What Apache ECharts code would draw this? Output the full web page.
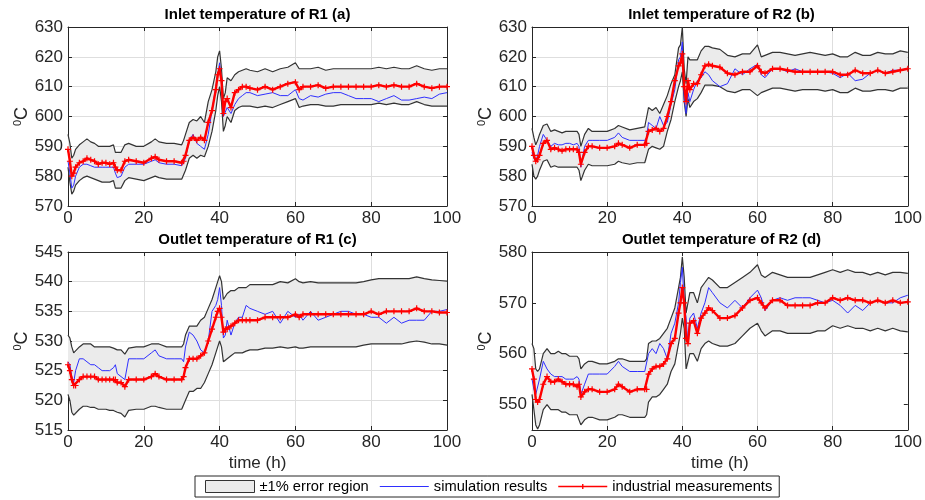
<!DOCTYPE html>
<html><head><meta charset="utf-8">
<script src="https://cdn.jsdelivr.net/npm/echarts@6/dist/echarts.min.js"></script>
<style>html,body{margin:0;padding:0;background:#fff}#c{width:925px;height:500px}</style>
</head><body><div id="c"></div>
<script>
// time axis (h)
const T = [0,0.5,1,1.5,2,3,4,5,6,7,8,9,10,11,12,12.5,13,14,15,16,
  18,20,22,23,24,26,28,30,
  30.5,31,32,33,34,35,36,37,38,39,39.5,40,40.5,41,41.5,42,43,44,45,46,47,48,
  50,52,54,56,58,60,61,62,64,66,68,70,72,74,76,78,80,82,84,86,88,90,92,94,96,98,100];

// (a) Inlet temperature of R1
const a_meas = [589,585,580,581,583,584.5,585,586,585.5,585,584,584.5,584.5,584,584.5,583,582,582,585,585.5,
  585,584.5,586,586.5,585.5,585,585,584.5,
  585,587,592,593,592,593,592,598,602,609,614,616,612,601,605,606,603,608,609,610,610,609.5,
  609,610,609,610,611,611.5,609,610,610,610.5,609.5,610,610,610,610,610,610,610.5,610,610.5,610,610,611,610,609.5,610,610];
const a_sim = [585,581,576,577,580,583,584,584,583.5,583,583,583,583,583,583,581,579.5,580,583,584,
  584,584,585,585.5,584.5,584,584,583.5,
  584,586,592,594,591,590,589,594,602,610,614,618,611,600,600,603,601,604,606,607,608,608,
  607,607.5,608,607,607,609,606,605.5,607,606.5,607.5,608,608,607,606,606,606,605,606,607,605.5,605.5,606,606.5,606,607.5,608];
const a_up = [594,591,586,587,589,590.5,591.5,592.5,591.5,591,590,590,590,590,590.5,588,587.5,588,590.5,591,
  590,590,591.5,592.5,591.5,591,591,590.5,
  592,594,598,599,598.5,600,598,605,609,615,620,622,616,606,608,613,612,614,615,615.5,616,615.5,
  615,616,615,616,616.5,618,616,616,616,616.5,615.5,616,616,616,616,616,616,616.5,616,616.5,616,616,617,616,615.5,616,616];
const a_lo = [583,578,574,575,577,578.5,579.5,580,579.5,579,578.5,578,578,578,578.5,576,575.5,576,578.5,579.5,
  579,578.5,579.5,580,579.5,579,579,579,
  579.5,582,586,587,586,587,586.5,590,595,602,607,610,605,595,597,600,598,602,603,603.5,603.5,603.5,
  603,603.5,603,604,605,606,603,603.5,604,604,603.5,603.5,604,604,604,604,604,604.5,604,604.5,604,604,605,604,603.5,603.5,603.5];

// (b) Inlet temperature of R2
const b_meas = [590,587,585,585.5,587,591,592,589,589.5,589,588.5,589,589,589,589,588,584,588,590,590,
  589.5,589.5,590,591,590.5,589.5,590.5,590.5,
  591,595,595.5,596,595,596,600,605,612,617,618,621,610,605,612,609,611,611,614,617,617.5,617,
  616.5,614.5,614,615,615,617,615,614.5,616,616,615.5,615,615,615,615,615,615,614,614,615.5,614.5,614.5,615.5,614.5,615,615.5,616];
const b_sim = [588,586,585,587,590,594,592,590,591,590.5,590.5,591,591,590.5,591,590,583,590,592,592,
  592,592,593,594.5,593,592,592,592,
  593,598,597,596,600,597,598,604,609,619,620,625,606,601,608,605,609,612,613,615,614,612,
  610,611,616,614,616,617.5,614,613,616,616,615,616,615,615,615,615,614.5,613,614.5,612,612.5,614.5,615.5,614.5,615.5,615.5,616];
const b_up = [596,593,590.5,592,594,597,597.5,595,595.5,595,594.5,595,595,595,595,594,590,594,596,595,
  595,595,596,597,596.5,595.5,596,596.5,
  597,603,602,603,601,604,607,611,614,623,624,630,616,611,620,619,619,619,622,623.5,623.5,623,
  622.5,620.5,620,621,621,624,620,620.5,621.5,621.5,621,620.5,621,621.5,621,620.5,621,620,620,621.5,620.5,620.5,621.5,621,621,622,621.5];
const b_lo = [584,580,579,580,582,585,585.5,583,583.5,583,583,583,583,583,583,582,578.5,582,584,583.5,
  583.5,583.5,584,585,584.5,584,584.5,584.5,
  585,589,590,589.5,589,590,595,599,605,610,612,615,605,600,606,603,605,606,608,610.5,610.5,610.5,
  610,608.5,608,609,609,607,608,608.5,609.5,609.5,609,608.5,609,609,609,608.5,609,608,608,609.5,608.5,608.5,609,609,608.5,609.5,609.5];

// (c) Outlet temperature of R1
const c_meas = [526,525,523.5,522.5,522.5,523.5,524,524,524,524,523.5,523.5,523.5,523.5,523.5,523.5,523,523,522.3,523.5,
  523.5,523.5,524,524.5,524,523.5,523.5,523.5,
  524,525.5,527,527,527,527.5,528,530,532,534,535,535.5,534,531.5,532,532,532.5,533,533.5,533.5,533.5,533.5,
  533.5,534,534,534,534,534.5,534,534.5,534.5,534.5,534.5,534.5,534.5,534.5,534.5,534.5,535,534.5,535,535,535,535,535.5,535,535,534.8,534.8];
const c_sim = [526.5,526,524,523,525,527,527,526.5,526,526,525.5,525,525,525,525.5,526,524.5,524,523.5,527,
  527,527,528,528.5,527.5,527,527,527,
  526.5,529,531.5,531,530,528.5,528,530,535,536,537,539,536,530.5,531,533.5,531,533,534,534,536,535.5,
  535,534.5,535,533,535,534,534.5,533.5,535,533.5,534,534.5,535,535,534.5,534.5,534,534,533,534,533,533.5,533.5,533.5,535,535,535.3];
const c_up = [531,530.5,529,528,528,529,529.5,529.5,529.5,529,529,529,529,529,528.8,528.8,528.5,528.5,527.8,528.8,
  529,529,529.5,529.5,529.5,529,529,529,
  529.5,531,532.5,532.5,532.5,533.5,534,535.5,537,539,540,541,540,537,537.5,538,538.5,538.5,539,539,539,539.5,
  539.5,539.5,539.5,540,539.8,540.5,540,539.8,540,539.8,539.8,539.8,539.8,539.8,539.8,540,540.3,540.5,540.5,540.5,540.5,540.5,540.8,540.5,540.3,540.2,540.1];
const c_lo = [521,520,518,517.5,517.5,518.5,519,519,518.8,518.8,518.5,518.5,518.5,518.3,518.3,518.3,518,517.8,517.2,518.3,
  518.5,518.5,519,519,518.8,518.5,518.5,518.5,
  518.8,520,521.5,521.5,522,522,523,524.5,526,528,529,530,529,526.5,526.5,527,527.5,528,528,528,528.3,528.5,
  528.5,528.8,528.8,529,528.8,529,528.8,528.8,529,529,529,529,529,529,529,529.3,529.5,529.5,529.5,529.5,529.5,529.8,530,529.8,529.5,529.5,529.3];

// (d) Outlet temperature of R2
const d_meas = [557,555,551,550.5,551,554,555.5,554.5,554.5,555,554.5,554,554,554,553.5,554,551.5,552.5,553,553,
  552.5,552.5,553,554,553.5,552.5,553,553,
  553,556,557,557.5,557.5,558,559,562,563,568,570,573,570,563,562,566,566.5,564,567,568,569,568.5,
  567,567,567.5,569,570.5,571,570,569,570.5,570.5,569.5,569.5,569.5,569.5,570,570,571,570.5,571,570.5,570.5,570,570.5,570,570.5,570,570.2];
const d_sim = [555,553,552,552,555,558.5,557,556,555.5,555.5,555.5,555,555,555,555.5,555,552,554,556,556,
  556,556,557.5,558.5,557.5,556.5,556.5,556.5,
  556.5,560,561,560,562,561,559,564,566,570,574,577,570,567,562,567,568,565,568,570,573,572,
  570,569,570.5,569,571,572.5,571,568.5,570.5,571,570.5,571,571,571,570.5,570,570.5,569.5,568,569.5,568.5,570,570.5,570,570,571,571.5];
const d_up = [562,561,557,556.5,557,560,561,560,560,560.5,560,560,559.5,559.5,559.5,559,557,558,558.5,558.5,
  558,558,558.5,559,559,558.5,558.5,558.5,
  559,562,562.5,562.5,563,564,565,567,569,573,575,579,575,568,568,572,572,570,573,574,575,574.5,
  573,573,574,575,576,577.5,575.5,575,576,575.5,575,575,575,575,575.5,576,576.5,576,576.5,576,576,575.5,576,575.5,576,576,575.8];
const d_lo = [552,549,546,545.2,546,549,550,549,549,549,548.5,548.5,548,548,548,548,546,547,547.5,547.5,
  547,547,547.5,548,548,547.5,547.5,547.5,
  548,550.5,551.5,551.5,552,553,554,556.5,558,562,564,567,565,557,557,560,560,558.5,561,562,562.5,562,
  561.5,561.5,562,563.5,565,566,564.5,563.5,564.5,564.5,564,564,564,564,564.5,564.5,565.5,565,565.5,565,565,564.5,565,564.5,565,564.5,564.3];

const titles = ['Inlet temperature of R1 (a)','Inlet temperature of R2 (b)','Outlet temperature of R1 (c)','Outlet temperature of R2 (d)'];
const xTicks = {min:0, max:100, interval:20};
const yRanges = [[570,630,10],[570,630,10],[515,545,5],[545,580,5]];
const legendNames = ['\u00b11% error region','simulation results','industrial measurements'];

const panels = [
  {up:a_up, lo:a_lo, sim:a_sim, meas:a_meas},
  {up:b_up, lo:b_lo, sim:b_sim, meas:b_meas},
  {up:c_up, lo:c_lo, sim:c_sim, meas:c_meas},
  {up:d_up, lo:d_lo, sim:d_sim, meas:d_meas}
];
const layout = [
  {left:68, top:27, height:179, showX:false},
  {left:532, top:27, height:179, showX:false},
  {left:68, top:252, height:178, showX:true},
  {left:532, top:252, height:178, showX:true}
];

const FONT = '"Liberation Sans", Arial, Helvetica, sans-serif';
const AX = '#262626';
const BAND = '#ebebeb';
const pts = ys => T.map((t, i) => [t, ys[i]]);
const plus = 'path://M4,0H6V4H10V6H6V10H4V6H0V4H4Z';
// legend icons (tiny corner specks keep the full 12px box so the stroke keeps its thickness)
const lineIcon = 'path://M0,0H0.01V0.01H0Z M0,11.99H0.01V12H0Z M0,5.4H49V6.6H0Z';
const plusLineIcon = 'path://M0,0H0.01V0.01H0Z M0,11.99H0.01V12H0Z M0,5.3H49V6.7H0Z M23.8,3.5H25.2V8.5H23.8Z';

const grids = [], xAxes = [], yAxes = [], series = [], graphics = [];
panels.forEach((p, i) => {
  const L = layout[i];
  const [ymin, ymax, yint] = yRanges[i];
  grids.push({left:L.left, top:L.top, width:379, height:L.height, containLabel:false});
  const odd = (i === 3);
  xAxes.push({
    gridIndex:i, type:'value', min:xTicks.min, max:xTicks.max, interval:xTicks.interval,
    name: L.showX ? 'time (h)' : '', nameLocation:'middle', nameGap:25,
    nameTextStyle:{fontFamily:FONT, fontSize:17, color:AX},
    axisLine:{show:true, onZero:false, lineStyle:{color:AX, width:1}},
    axisTick:{show:true, inside:true, length:4, lineStyle:{color:AX}},
    axisLabel:{fontFamily:FONT, fontSize:17, color:AX, margin:4},
    splitLine:{show:true, lineStyle:{color:'#dedede', width:1}}
  });
  xAxes.push({
    gridIndex:i, type:'value', position:'top', min:xTicks.min, max:xTicks.max, interval:xTicks.interval,
    axisLine:{show:true, onZero:false, lineStyle:{color:AX, width:1}},
    axisTick:{show:true, inside:true, length:4, lineStyle:{color:AX}},
    axisLabel:{show:false}, splitLine:{show:false}
  });
  const yTickVals = [];
  for (let v = ymin; v <= ymax; v += yint) { if (!odd || v % 10 === 0) yTickVals.push(v); }
  yAxes.push({
    gridIndex:i, type:'value', min:ymin, max:ymax, interval:yint,
    name:'{s|0}{c|C}', nameLocation:'middle', nameGap:35, nameRotate:90,
    nameTextStyle:{fontFamily:FONT, color:AX, rich:{
      s:{fontFamily:FONT, fontSize:11, color:AX, padding:[0,0,8,0]},
      c:{fontFamily:FONT, fontSize:18, color:AX}
    }},
    axisLine:{show:true, onZero:false, lineStyle:{color:AX, width:1}},
    axisTick:{show:true, inside:true, length:4, lineStyle:{color:AX}, customValues: yTickVals},
    axisLabel:{fontFamily:FONT, fontSize:17, color:AX, margin:5,
      formatter: v => (odd && v % 10 !== 0) ? '' : String(v)},
    splitLine:{show:true, lineStyle:{color: odd ? ['rgba(0,0,0,0)','#dedede'] : '#dedede', width:1}}
  });
  yAxes.push({
    gridIndex:i, type:'value', position:'right', min:ymin, max:ymax, interval:yint,
    axisLine:{show:true, onZero:false, lineStyle:{color:AX, width:1}},
    axisTick:{show:true, inside:true, length:4, lineStyle:{color:AX}, customValues: yTickVals},
    axisLabel:{show:false}, splitLine:{show:false}
  });
  const xi = 2*i, yi = 2*i;
  series.push({
    name:legendNames[0], type:'custom', xAxisIndex:xi, yAxisIndex:yi, silent:true, clip:true,
    itemStyle:{color:BAND},
    data:[[T[0], p.lo[0]]],
    renderItem:(params, api) => {
      const top = T.map((t, k) => api.coord([t, p.up[k]]));
      const bot = T.map((t, k) => api.coord([t, p.lo[k]])).reverse();
      return {type:'polygon', shape:{points: top.concat(bot)}, style:{fill:BAND, stroke:null}};
    },
    z:1
  });
  series.push({
    name:'upper'+i, type:'line', xAxisIndex:xi, yAxisIndex:yi, data:pts(p.up), symbol:'none', silent:true,
    lineStyle:{color:'#333', width:1.2}, z:2
  });
  series.push({
    name:'lower'+i, type:'line', xAxisIndex:xi, yAxisIndex:yi, data:pts(p.lo), symbol:'none', silent:true,
    lineStyle:{color:'#333', width:1.2}, z:2
  });
  series.push({
    name:legendNames[1], type:'line', xAxisIndex:xi, yAxisIndex:yi, data:pts(p.sim), symbol:'none',
    itemStyle:{color:'#2f2fff'}, lineStyle:{color:'#2f2fff', width:1}, z:3
  });
  series.push({
    name:legendNames[2], type:'line', xAxisIndex:xi, yAxisIndex:yi, data:pts(p.meas),
    symbol:plus, symbolSize:6, showSymbol:true,
    itemStyle:{color:'#ff0000'}, lineStyle:{color:'#ff0000', width:2.4}, z:4
  });
  graphics.push({
    type:'text', x:L.left + 189.5, y: i < 2 ? 15 : 240,
    style:{text:titles[i], font:'bold 15px ' + FONT, fill:'#000', textAlign:'center', textVerticalAlign:'middle'}
  });
});

const chart = echarts.init(document.getElementById('c'), null, {renderer:'canvas'});
chart.setOption({
  animation:false,
  backgroundColor:'#fff',
  grid:grids, xAxis:xAxes, yAxis:yAxes, series:series, graphic:graphics,
  legend:{
    left:195, top:476, orient:'horizontal',
    padding:[3,7,3,10], itemGap:11, itemWidth:49, itemHeight:12,
    borderColor:'#262626', borderWidth:1, borderRadius:0, backgroundColor:'#fff',
    textStyle:{fontFamily:FONT, fontSize:14.7, color:'#000'},
    selectedMode:false,
    data:[
      {name:legendNames[0], icon:'rect', itemStyle:{color:BAND, borderColor:'#333', borderWidth:1}},
      {name:legendNames[1], icon:lineIcon, itemStyle:{color:'#2f2fff', borderWidth:0}},
      {name:legendNames[2], icon:plusLineIcon, itemStyle:{color:'#ff0000', borderWidth:0}}
    ]
  }
});
</script>
</body></html>
